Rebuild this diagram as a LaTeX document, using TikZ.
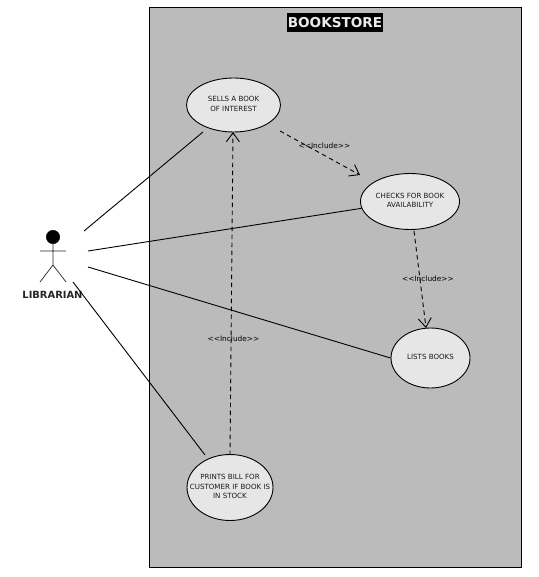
\documentclass[tikz,border=0pt]{standalone}
\usepackage{fontspec}
\setmainfont{DejaVu Sans}
\usetikzlibrary{arrows.meta,shapes.geometric}
\definecolor{sysgray}{HTML}{BBBBBB}
\definecolor{casefill}{HTML}{E6E6E6}
\tikzset{
  usecase/.style={ellipse,draw=black,line width=0.9pt,fill=casefill,inner xsep=-14pt,inner ysep=-6pt,text depth=2pt,align=center,font=\fontsize{7.1}{9.3}\selectfont,text=black!90},
  assoc/.style={draw=black,line width=0.9pt},
  incl/.style={draw=black,line width=0.9pt,dash pattern=on 4.5pt off 3.5pt,-{Straight Barb[length=9pt,width=13pt,line width=0.9pt]}},
  incllabel/.style={font=\fontsize{7.4}{9}\selectfont,inner sep=0pt,text=black}
}
\begin{document}
\begin{tikzpicture}[x=1pt,y=-1pt]
\useasboundingbox (0,0) rectangle (538,577);
\node[draw=black,line width=0.9pt,fill=sysgray,minimum width=372pt,minimum height=560pt,inner sep=0pt] (system) at (335.3,287.4) {};
\node[fill=black,text=white!92!black,font=\bfseries\fontsize{13.6}{14}\selectfont,minimum width=96pt,minimum height=19pt,inner sep=0pt] (title) at (335,22.5) {BOOKSTORE};

\node[usecase,minimum width=94pt,minimum height=54pt] (sells) at (233.5,105) {SELLS A BOOK\\OF INTEREST};
\node[usecase,minimum width=99pt,minimum height=56pt] (checks) at (410,201.5) {CHECKS FOR BOOK\\AVAILABILITY};
\node[usecase,minimum width=79pt,minimum height=60pt] (lists) at (430.5,358) {LISTS BOOKS};
\node[usecase,minimum width=86pt,minimum height=66pt] (prints) at (230,487.5) {PRINTS BILL FOR\\CUSTOMER IF BOOK IS\\IN STOCK};

% actor
\node[circle,fill=black,draw=black,minimum size=13.5pt,inner sep=0pt] (head) at (53,237) {};
\coordinate (hip) at (53,265);
\coordinate (armL) at (40,251);
\coordinate (armR) at (66,251);
\coordinate (legL) at (40,282);
\coordinate (legR) at (66,282);
\draw[line width=0.7pt,black!85] (head.south) -- (hip) (armL) -- (armR) (legL) -- (hip) -- (legR);
\node[font=\bfseries\fontsize{9.9}{10}\selectfont,inner sep=0pt,text=black!85] (actorname) at (52.5,294.5) {LIBRARIAN};

% associations
\coordinate (a1) at (84,231);
\coordinate (b1) at (203,132);
\coordinate (a2) at (88,251);
\coordinate (a3) at (88,267);
\coordinate (a4) at (73,282);
\coordinate (b4) at (205,455);
\draw[assoc] (a1) -- (b1);
\draw[assoc] (a2) -- (checks.188);
\draw[assoc] (a3) -- (lists.west);
\draw[assoc] (a4) -- (b4);

% includes
\coordinate (s1) at (280,131);
\coordinate (s2) at (414,231);
\coordinate (s3) at (230,455);
\coordinate (e1) at (360,175);
\coordinate (e2) at (426,328);
\coordinate (e3) at (233,132);
\draw[incl] (s1) -- (e1);
\draw[incl] (s2) -- (e2);
\draw[incl] (s3) -- (e3);

\node[incllabel] (l1) at (324.5,146) {<{}<Include>{}>};
\node[incllabel] (l2) at (428,279) {<{}<Include>{}>};
\node[incllabel] (l3) at (233.5,338.5) {<{}<Include>{}>};
\end{tikzpicture}
\end{document}
